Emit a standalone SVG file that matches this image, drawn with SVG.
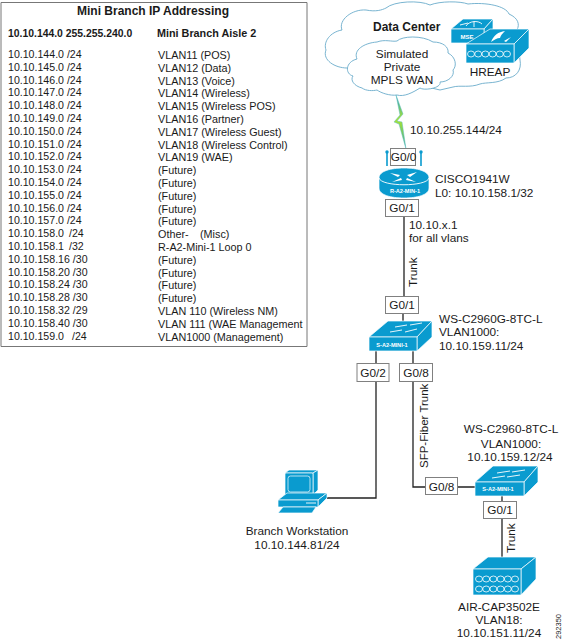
<svg xmlns="http://www.w3.org/2000/svg" width="563" height="640" viewBox="0 0 563 640">
<style>
text{font-family:"Liberation Sans",Arial,sans-serif;font-size:11.8px;fill:#1a1a1a}
.t{font-size:10.6px}
.r{font-size:10.8px}
.h{font-size:12px;font-weight:bold}
.tb{font-size:10.4px;font-weight:bold}
.m{text-anchor:middle}
.box{fill:#fff;stroke:#808080;stroke-width:1}
.line{fill:none;stroke:#222;stroke-width:1.3}
.blue{fill:#0a9bcf;stroke:#fff;stroke-width:.7;stroke-linejoin:round}
.w{fill:none;stroke:#fff;stroke-width:.9}
.lab{font-size:5.6px;font-weight:bold;fill:#fff;text-anchor:middle}
.cloud{fill:#fff;stroke:#6aaccb;stroke-width:.9}
</style>
<defs>
<linearGradient id="bolt" x1="0" y1="0" x2="0" y2="1"><stop offset="0" stop-color="#2aa0bf"/><stop offset=".45" stop-color="#a9e52f"/><stop offset="1" stop-color="#3aa9a0"/></linearGradient>
<g id="rings" fill="none" stroke="#fff" stroke-width=".8"><ellipse cx="0" cy="0" rx="3.5" ry="3"/><ellipse cx="7.2" cy="0" rx="3.5" ry="3"/><ellipse cx="14.4" cy="0" rx="3.5" ry="3"/><ellipse cx="21.6" cy="0" rx="3.5" ry="3"/><ellipse cx="28.8" cy="0" rx="3.5" ry="3"/><ellipse cx="36" cy="0" rx="3.5" ry="3"/></g>
</defs>
<g id="ip-table">
<path d="M1 2.500H307V346.500H1Z" fill="#fff" stroke="#777" stroke-width="1"/>
<text x="153" y="15" class="m h">Mini Branch IP Addressing</text>
<text class="tb" x="8" y="37">10.10.144.0 255.255.240.0</text><text class="r" x="157" y="37" style="font-weight:bold">Mini Branch Aisle 2</text>
<text class="t" x="8" y="58">10.10.144.0 /24</text><text class="r" x="158" y="59">VLAN11 (POS)</text>
<text class="t" x="8" y="71">10.10.145.0 /24</text><text class="r" x="158" y="72">VLAN12 (Data)</text>
<text class="t" x="8" y="84">10.10.146.0 /24</text><text class="r" x="158" y="85">VLAN13 (Voice)</text>
<text class="t" x="8" y="96">10.10.147.0 /24</text><text class="r" x="158" y="97">VLAN14 (Wireless)</text>
<text class="t" x="8" y="109">10.10.148.0 /24</text><text class="r" x="158" y="110">VLAN15 (Wireless POS)</text>
<text class="t" x="8" y="122">10.10.149.0 /24</text><text class="r" x="158" y="123">VLAN16 (Partner)</text>
<text class="t" x="8" y="135">10.10.150.0 /24</text><text class="r" x="158" y="136">VLAN17 (Wireless Guest)</text>
<text class="t" x="8" y="148">10.10.151.0 /24</text><text class="r" x="158" y="149">VLAN18 (Wireless Control)</text>
<text class="t" x="8" y="160">10.10.152.0 /24</text><text class="r" x="158" y="161">VLAN19 (WAE)</text>
<text class="t" x="8" y="173">10.10.153.0 /24</text><text class="r" x="158" y="174">(Future)</text>
<text class="t" x="8" y="186">10.10.154.0 /24</text><text class="r" x="158" y="187">(Future)</text>
<text class="t" x="8" y="199">10.10.155.0 /24</text><text class="r" x="158" y="200">(Future)</text>
<text class="t" x="8" y="212">10.10.156.0 /24</text><text class="r" x="158" y="213">(Future)</text>
<text class="t" x="8" y="224">10.10.157.0 /24</text><text class="r" x="158" y="225">(Future)</text>
<text class="t" x="8" y="237">10.10.158.0</text><text class="t" x="69" y="237">/24</text><text class="r" x="158" y="238">Other-</text><text class="r" x="200" y="238">(Misc)</text>
<text class="t" x="8" y="250">10.10.158.1</text><text class="t" x="69" y="250">/32</text><text class="r" x="158" y="251">R-A2-Mini-1 Loop 0</text>
<text class="t" x="8" y="263">10.10.158.16 /30</text><text class="r" x="158" y="264">(Future)</text>
<text class="t" x="8" y="276">10.10.158.20 /30</text><text class="r" x="158" y="277">(Future)</text>
<text class="t" x="8" y="288">10.10.158.24 /30</text><text class="r" x="158" y="289">(Future)</text>
<text class="t" x="8" y="301">10.10.158.28 /30</text><text class="r" x="158" y="302">(Future)</text>
<text class="t" x="8" y="314">10.10.158.32 /29</text><text class="r" x="158" y="315">VLAN 110 (Wireless NM)</text>
<text class="t" x="8" y="327">10.10.158.40 /30</text><text class="r" x="158" y="328">VLAN 111 (WAE Management</text>
<text class="t" x="8" y="340">10.10.159.0</text><text class="t" x="72" y="340">/24</text><text class="r" x="158" y="341">VLAN1000 (Management)</text>
</g>
<g id="data-center">
<path class="cloud" d="M347 68C335 68 322 60 326 50C323 42 330 32 342 30C338 20 352 9 366 10C376 12 382 10 386 8C394 1 420 0 430 5C440 1 460 1 468 4C486 2 506 6 509 14C518 18 520 24 517 30L520 60C522 70 516 78 506 78C498 84 486 82 480 84C470 88 460 85 453 87L440 90Z"/>
<text class="h" x="373" y="31">Data Center</text>
<path class="cloud" d="M362 88C354 86 350 80 353 76C345 74 345 62 357 59C353 50 364 43 377 42C385 39 392 42 397 41C402 36 422 35 433 42C443 42 449 47 448 53C456 57 457 66 453 70C455 76 448 82 440 82C442 88 424 91 420 88C412 93 404 97 397 95C390 96 381 93 377 90C373 91 366 91 362 88Z"/>
<text class="m" x="402" y="58">Simulated</text>
<text class="m" x="402" y="71">Private</text>
<text class="m" x="402" y="84">MPLS WAN</text>
</g>
<g id="mse">
<path class="blue" d="M451 29L463 19H493L484 29Z"/><path class="blue" d="M484 29L493 19V33L484 43Z"/><rect class="blue" x="451" y="29" width="33" height="14"/>
<text class="lab" x="467" y="38.500" style="font-size:6px">MSE</text>
<path class="w" d="M466 26C469 21 478 20 482 24M474 21V27M460 25L468 23"/>
</g>
<g id="hreap">
<path class="blue" d="M466 44L490 29H529L514 44Z"/><path class="blue" d="M514 44L529 29V48L514 63Z"/><rect class="blue" x="466" y="44" width="48" height="19"/>
<use href="#rings" x="471" y="54"/>
<path d="M491 42C494 35 498 32 505 31C502 34 501 35 500 38C497 38 494 40 491 42ZM504 41L511 37L506 42Z" fill="#fff"/>
<text class="m" x="490" y="76">HREAP</text>
</g>
<g id="connectors">
<path d="M396 95L403 114L397 121L402 122L406 149L399 124L394 122L400 115Z" fill="url(#bolt)" stroke="#5fbcc0" stroke-width=".5"/>
<path class="line" d="M404 217V296M403 314V322M376 351V498H327M413 351V487H425M458 487H475M502 496V501M502 518V557"/>
</g>
<text x="410" y="134">10.10.255.144/24</text>
<g id="router">
<path d="M387 153V166M421 153V166" stroke="#0a9bcf" stroke-width="1.6"/>
<circle cx="387" cy="152" r="1.700" fill="#0a9bcf"/><circle cx="421" cy="152" r="1.700" fill="#0a9bcf"/>
<path class="blue" d="M379 178C379 171 391 168 404 168C417 168 429 171 429 178V188C429 195 417 198 404 198C391 198 379 195 379 188Z"/>
<path class="w" d="M379 178C381 187 427 187 429 178"/>
<path d="M390 173L400 175L398 177ZM417 172L407 175L410 177ZM392 182L401 178L402 180ZM416 182L407 178L406 180Z" fill="#fff"/>
<text class="lab" x="405" y="193">R-A2-MIN-1</text>
<text x="435" y="183">CISCO1941W</text>
<text x="435" y="197">L0: 10.10.158.1/32</text>
</g>
<g id="g00"><rect class="box" x="390.500" y="148.500" width="25" height="17"/><text class="m" x="403.500" y="161">G0/0</text></g>
<g id="g01a"><rect class="box" x="385.500" y="199.500" width="33" height="17"/><text class="m" x="402" y="212">G0/1</text></g>
<text x="409" y="229">10.10.x.1</text>
<text x="409" y="242">for all vlans</text>
<text transform="rotate(-90 417 287)" x="417" y="287">Trunk</text>
<g id="g01b"><rect class="box" x="385.500" y="296.500" width="33" height="17"/><text class="m" x="402" y="309">G0/1</text></g>
<g id="switch1">
<path class="blue" d="M369 337L388 321H432L417 337Z"/><path class="blue" d="M417 337L432 321V337L417 351Z"/><rect class="blue" x="369" y="337" width="48" height="14"/>
<path class="w" d="M395 327L407 325M422 323L410 325M390 332L402 330M417 329L405 332"/>
<text class="lab" x="392" y="347">S-A2-MINI-1</text>
<text x="439" y="323">WS-C2960G-8TC-L</text>
<text x="439" y="336">VLAN1000:</text>
<text x="439" y="350">10.10.159.11/24</text>
</g>
<g id="g02"><rect class="box" x="357" y="363.500" width="32" height="18"/><text class="m" x="373" y="377">G0/2</text></g>
<g id="g08"><rect class="box" x="399.500" y="363.500" width="33" height="18"/><text class="m" x="416" y="377">G0/8</text></g>
<text transform="rotate(-90 428 468)" x="428" y="468" style="font-size:11.5px">SFP-Fiber Trunk</text>
<g id="g08b"><rect class="box" x="425.500" y="477.500" width="32" height="17"/><text class="m" x="441.500" y="491">G0/8</text></g>
<g id="switch2">
<path class="blue" d="M475 482L493 466H538L524 482Z"/><path class="blue" d="M524 482L538 466V482L524 496Z"/><rect class="blue" x="475" y="482" width="49" height="14"/>
<path class="w" d="M497 473L510 471M525 470L512 472M492 478L505 476M520 475L507 477"/>
<text class="lab" x="498" y="491">S-A2-MINI-1</text>
<text class="m" x="511" y="433">WS-C2960-8TC-L</text>
<text class="m" x="511" y="448">VLAN1000:</text>
<text class="m" x="510" y="461">10.10.159.12/24</text>
</g>
<g id="g01c"><rect class="box" x="483.500" y="501.500" width="33" height="17"/><text class="m" x="500" y="514">G0/1</text></g>
<text transform="rotate(-90 515 553)" x="515" y="553">Trunk</text>
<g id="cap">
<path class="blue" d="M473 569L488 557H536L521 569Z"/><path class="blue" d="M521 569L536 557V579L521 595Z"/><rect class="blue" x="473" y="569" width="48" height="26"/>
<use href="#rings" x="479" y="579"/><use href="#rings" x="479" y="589"/>
<text class="m" x="499" y="611">AIR-CAP3502E</text>
<text class="m" x="499" y="624">VLAN18:</text>
<text class="m" x="499" y="637">10.10.151.11/24</text>
</g>
<g id="workstation">
<path class="blue" d="M285 473L289 470H318L313 473Z"/><path class="blue" d="M313 473L318 470V490L313 495Z"/><rect class="blue" x="285" y="473" width="28" height="22" rx="1"/>
<rect x="288" y="476" width="22" height="16" rx="2.500" fill="none" stroke="#fff" stroke-width=".7"/>
<path class="blue" d="M278 500L287 493H327L318 500Z"/><path class="blue" d="M318 500L327 493V498L318 507Z"/><rect class="blue" x="278" y="500" width="40" height="7"/>
<path class="w" d="M306 503H316"/>
<path class="blue" d="M278 513L283 507H316L312 513Z"/>
<text class="m" x="297" y="535">Branch Workstation</text>
<text class="m" x="297" y="549">10.10.144.81/24</text>
</g>
<text transform="rotate(-90 561 639)" x="561" y="639" style="font-size:7.500px">292350</text>
</svg>
